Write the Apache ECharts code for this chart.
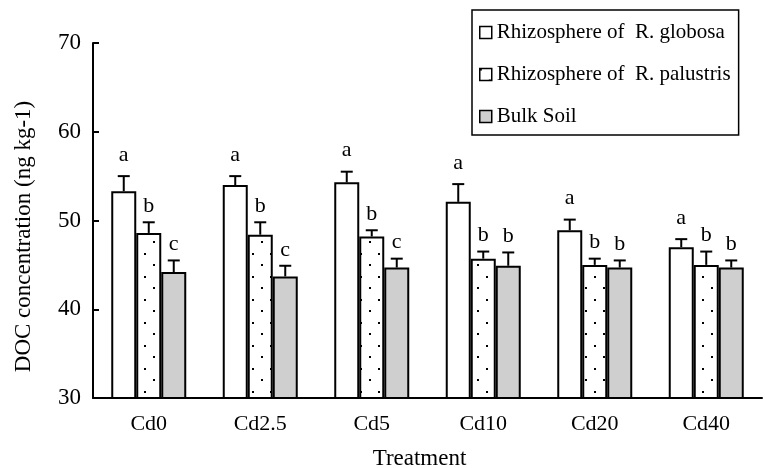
<!DOCTYPE html>
<html>
<head>
<meta charset="utf-8">
<script src="https://cdn.jsdelivr.net/npm/echarts@6/dist/echarts.min.js"></script>
<style>
  html, body { margin: 0; padding: 0; background: #fff; }
  #chart { width: 765px; height: 468px; }
</style>
</head>
<body>
<div id="chart"></div>
<script>
const treatments = ['Cd0', 'Cd2.5', 'Cd5', 'Cd10', 'Cd20', 'Cd40']
const seriesNames = ['Rhizosphere of  R. globosa', 'Rhizosphere of  R. palustris', 'Bulk Soil']

const globosaMean = [53.3, 54.0, 54.3, 52.1, 48.9, 47.0]
const globosaErr = [1.7, 1.0, 1.2, 2.0, 1.2, 0.9]
const palustrisMean = [48.6, 48.4, 48.2, 45.7, 45.0, 45.0]
const palustrisErr = [1.2, 1.4, 0.7, 0.8, 0.7, 1.5]
const bulkMean = [44.2, 43.7, 44.7, 44.9, 44.7, 44.7]
const bulkErr = [1.3, 1.2, 1.0, 1.5, 0.8, 0.8]

const globosaLetters = ['a', 'a', 'a', 'a', 'a', 'a']
const palustrisLetters = ['b', 'b', 'b', 'b', 'b', 'b']
const bulkLetters = ['c', 'c', 'c', 'b', 'b', 'b']

const serif = '"Liberation Serif", "DejaVu Serif", serif'
const BAR_W = 25

// dotted fill for the palustris bars
function dotPattern() {
  const c = document.createElement('canvas')
  c.width = 18
  c.height = 23
  const ctx = c.getContext('2d')
  ctx.fillStyle = '#fff'
  ctx.fillRect(0, 0, 18, 23)
  ctx.fillStyle = '#000'
  ctx.fillRect(0, 0, 2, 2)
  ctx.fillRect(9, 11, 2, 2)
  return c
}

function errSeries(means, errs, letters, offset, lift) {
  return {
    type: 'custom',
    z: 5,
    silent: true,
    encode: { x: 0, y: 1 },
    data: means.map((m, i) => [i, m, errs[i]]),
    renderItem: function (params, api) {
      const i = api.value(0)
      const m = api.value(1)
      const e = api.value(2)
      const p0 = api.coord([i, m])
      const p1 = api.coord([i, m + e])
      const x = p0[0] + offset
      return {
        type: 'group',
        children: [
          { type: 'line', shape: { x1: x, y1: p0[1], x2: x, y2: p1[1] }, style: { stroke: '#000', lineWidth: 2 } },
          { type: 'line', shape: { x1: x - 6, y1: p1[1], x2: x + 6, y2: p1[1] }, style: { stroke: '#000', lineWidth: 2 } },
          {
            type: 'text',
            style: {
              x: x, y: p1[1] - lift, text: letters[i],
              fill: '#000', font: '22px ' + serif,
              align: 'center', verticalAlign: 'bottom'
            }
          }
        ]
      }
    }
  }
}

const chart = echarts.init(document.getElementById('chart'))

chart.setOption({
  backgroundColor: '#fff',
  animation: false,
  grid: { left: 93, right: 3, top: 43, bottom: 70, outerBoundsMode: 'none', containLabel: false },
  legend: {
    data: seriesNames,
    orient: 'vertical',
    left: 472,
    top: 10,
    borderColor: '#000',
    borderWidth: 1.5,
    padding: [12, 8, 8, 7],
    itemGap: 21,
    itemWidth: 12,
    itemHeight: 12,
    itemStyle: { borderColor: '#000', borderWidth: 1.5 },
    icon: 'rect',
    textStyle: { fontFamily: serif, fontSize: 21, color: '#000' }
  },
  xAxis: {
    type: 'category',
    data: treatments,
    name: 'Treatment',
    nameLocation: 'middle',
    nameGap: 49,
    nameTextStyle: { fontFamily: serif, fontSize: 23, color: '#000', padding: [0, 16, 0, 0] },
    axisLine: { lineStyle: { color: '#000', width: 2 } },
    axisTick: { inside: true, length: 6, lineStyle: { color: '#000', width: 2 } },
    axisLabel: { fontFamily: serif, fontSize: 22, color: '#000', margin: 15 }
  },
  yAxis: {
    type: 'value',
    min: 30,
    max: 70,
    interval: 10,
    name: 'DOC concentration (ng kg-1)',
    nameLocation: 'middle',
    nameGap: 58,
    nameTextStyle: { fontFamily: serif, fontSize: 23, color: '#000', padding: [0, 32, 0, 0] },
    axisLine: { show: true, lineStyle: { color: '#000', width: 2 } },
    axisTick: { show: true, inside: true, length: 6, lineStyle: { color: '#000', width: 2 } },
    axisLabel: { fontFamily: serif, fontSize: 23, color: '#000', margin: 12 },
    splitLine: { show: false }
  },
  series: [
    {
      name: seriesNames[0], type: 'bar', barWidth: BAR_W, barGap: '0%',
      itemStyle: { color: '#fff', borderColor: '#000', borderWidth: 2 },
      data: globosaMean
    },
    {
      name: seriesNames[1], type: 'bar', barWidth: BAR_W, barGap: '0%',
      itemStyle: { color: { image: dotPattern(), repeat: 'repeat' }, borderColor: '#000', borderWidth: 2 },
      data: palustrisMean
    },
    {
      name: seriesNames[2], type: 'bar', barWidth: BAR_W, barGap: '0%',
      itemStyle: { color: '#cfcfcf', borderColor: '#000', borderWidth: 2 },
      data: bulkMean
    },
    errSeries(globosaMean, globosaErr, globosaLetters, -BAR_W, 10),
    errSeries(palustrisMean, palustrisErr, palustrisLetters, 0, 5),
    errSeries(bulkMean, bulkErr, bulkLetters, BAR_W, 5)
  ]
})
</script>
</body>
</html>
